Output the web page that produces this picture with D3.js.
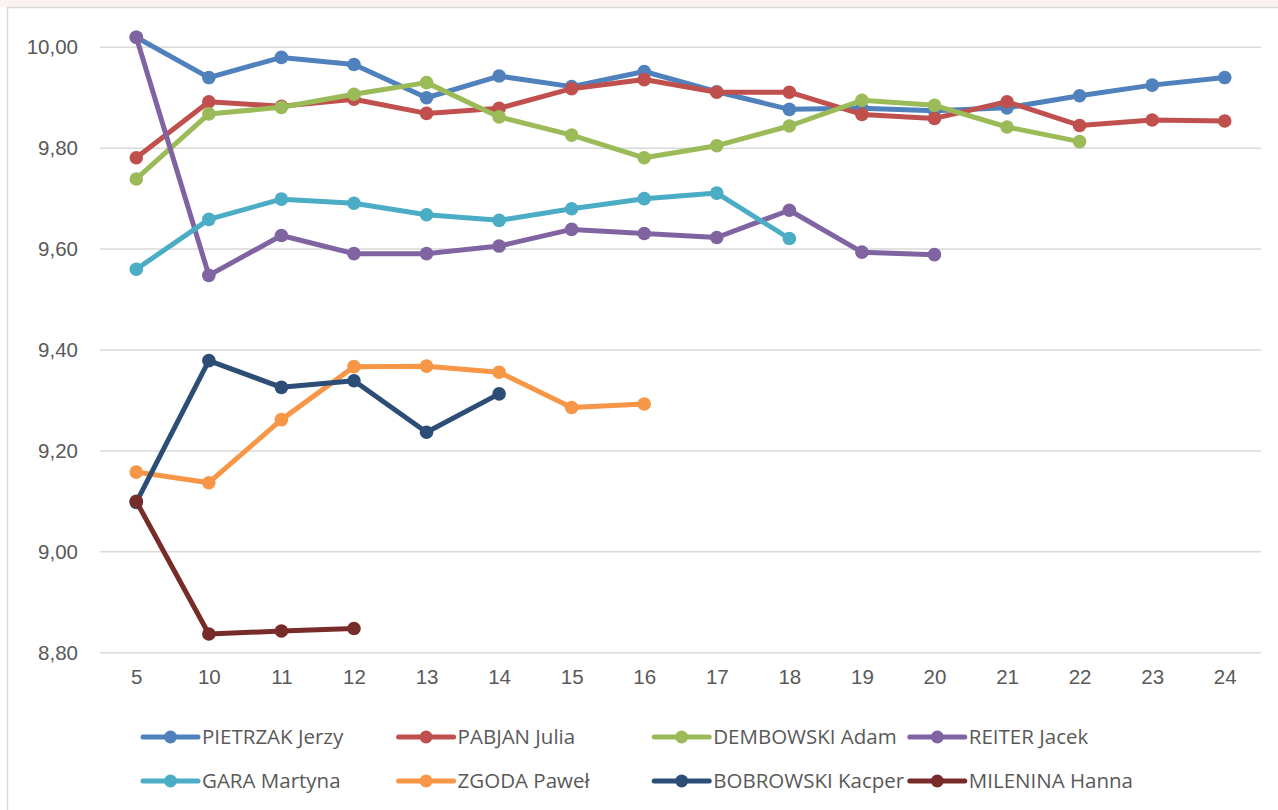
<!DOCTYPE html>
<html>
<head>
<meta charset="utf-8">
<script src="https://cdn.jsdelivr.net/npm/d3@7"></script>
<style>
  body { margin: 0; background: #fff; }
  svg { display: block; font-family: "Open Sans", "Noto Sans", sans-serif; }
</style>
</head>
<body>
<svg id="chart" width="1278" height="810"></svg>
<script>
// kategorie na osi X
var categories = ['5', '10', '11', '12', '13', '14', '15', '16', '17', '18', '19', '20', '21', '22', '23', '24'];
var yTicks = [8.8, 9.0, 9.2, 9.4, 9.6, 9.8, 10.0];

var names = ['PIETRZAK Jerzy', 'PABJAN Julia', 'DEMBOWSKI Adam', 'REITER Jacek',
             'GARA Martyna', 'ZGODA Paweł', 'BOBROWSKI Kacper', 'MILENINA Hanna'];
var colors = ['#4F81BD', '#C0504D', '#9BBB59', '#8064A2', '#4BACC6', '#F79646', '#2C4D75', '#772C2A'];

var pietrzak  = [10.02, 9.94, 9.98, 9.966, 9.90, 9.943, 9.922, 9.952, 9.912, 9.877, 9.879, 9.874, 9.880, 9.904, 9.925, 9.940];
var pabjan    = [9.781, 9.892, 9.883, 9.897, 9.869, 9.879, 9.918, 9.936, 9.911, 9.911, 9.867, 9.859, 9.892, 9.845, 9.856, 9.854];
var dembowski = [9.739, 9.868, 9.881, 9.907, 9.930, 9.862, 9.826, 9.781, 9.805, 9.844, 9.895, 9.885, 9.842, 9.813, null, null];
var reiter    = [10.02, 9.548, 9.627, 9.591, 9.591, 9.606, 9.639, 9.631, 9.623, 9.677, 9.594, 9.589, null, null, null, null];
var gara      = [9.560, 9.659, 9.699, 9.691, 9.668, 9.657, 9.680, 9.700, 9.711, 9.621, null, null, null, null, null, null];
var zgoda     = [9.158, 9.137, 9.262, 9.367, 9.368, 9.356, 9.286, 9.293, null, null, null, null, null, null, null, null];
var bobrowski = [9.098, 9.379, 9.326, 9.339, 9.237, 9.313, null, null, null, null, null, null, null, null, null, null];
var milenina  = [9.100, 8.837, 8.843, 8.848, null, null, null, null, null, null, null, null, null, null, null, null];

var values = [pietrzak, pabjan, dembowski, reiter, gara, zgoda, bobrowski, milenina];

var svg = d3.select('#chart');
var textColor = '#595959';

// ramka wykresu (fragment)
svg.append('rect').attr('x', 0).attr('y', 0).attr('width', 1278).attr('height', 7).attr('fill', '#fdf2f2');
svg.append('path').attr('d', 'M7.5,810V7.5H1278').attr('fill', 'none').attr('stroke', '#d9d9d9').attr('stroke-width', 1.5);

var x = d3.scalePoint().domain(categories).range([100, 1261]).padding(0.5);
var y = d3.scaleLinear().domain([8.8, 10]).range([652.7, 47.3]);

var pl = d3.formatLocale({ decimal: ',', thousands: ' ', grouping: [3], currency: ['', ' zł'] });
var fmt = pl.format('.2f');

// siatka pozioma
svg.append('g').selectAll('line').data(yTicks).enter().append('line')
    .attr('x1', 100).attr('x2', 1261)
    .attr('y1', d => y(d)).attr('y2', d => y(d))
    .attr('stroke', '#d9d9d9').attr('stroke-width', 1.5);

// oś Y
var yAxis = svg.append('g').attr('transform', 'translate(84,0)')
    .call(d3.axisLeft(y).tickValues(yTicks).tickFormat(fmt).tickSize(0).tickPadding(6));
yAxis.select('.domain').remove();
yAxis.selectAll('text').attr('fill', textColor).style('font-size', '20.5px');

// oś X
var xAxis = svg.append('g').attr('transform', 'translate(0,672)')
    .call(d3.axisBottom(x).tickSize(0).tickPadding(0));
xAxis.select('.domain').remove();
xAxis.selectAll('text').attr('fill', textColor).style('font-size', '20.5px').attr('dy', '0.6em');

var line = d3.line()
    .defined(d => d != null)
    .x((d, i) => x(categories[i]))
    .y(d => y(d));

// serie: linia + znaczniki, kolejne serie rysowane na wierzchu
values.forEach((vals, k) => {
    var g = svg.append('g');
    g.append('path').datum(vals)
        .attr('d', line)
        .attr('fill', 'none')
        .attr('stroke', colors[k])
        .attr('stroke-width', 5)
        .attr('stroke-linejoin', 'round')
        .attr('stroke-linecap', 'round');
    g.selectAll('circle')
        .data(vals.map((v, i) => ({ c: categories[i], v: v })).filter(d => d.v != null))
        .enter().append('circle')
        .attr('cx', d => x(d.c)).attr('cy', d => y(d.v))
        .attr('r', 6.8)
        .attr('fill', colors[k]);
});

// legenda
var legend = svg.append('g');
var item = legend.selectAll('g').data(names).enter().append('g')
    .attr('transform', (d, i) => 'translate(' + (143 + (i % 4) * 255.6) + ',' + (i < 4 ? 737 : 781) + ')');
item.append('line')
    .attr('x1', 0).attr('x2', 55)
    .attr('stroke', (d, i) => colors[i]).attr('stroke-width', 5).attr('stroke-linecap', 'round');
item.append('circle').attr('cx', 27.5).attr('r', 6.5).attr('fill', (d, i) => colors[i]);
item.append('text')
    .attr('x', 59).attr('dy', '0.36em')
    .attr('fill', textColor).style('font-size', '20.5px')
    .text(d => d);
</script>
</body>
</html>
